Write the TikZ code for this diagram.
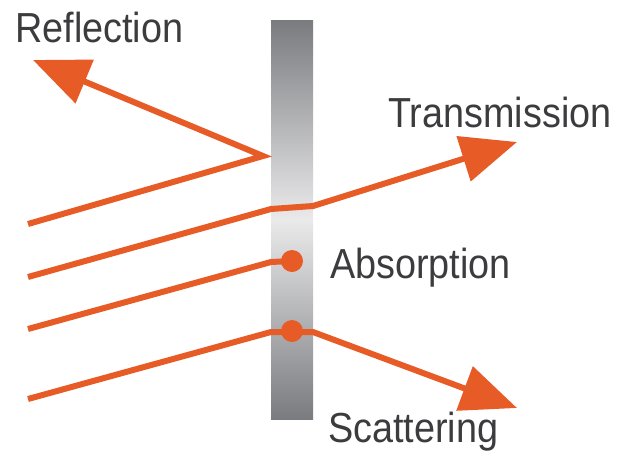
\documentclass[tikz,border=0pt]{standalone}
\usepackage{fontspec}
\newfontfamily\labelfont{Liberation Sans}[FakeStretch=0.9]
\usetikzlibrary{arrows.meta, positioning}
\definecolor{rayOrange}{RGB}{231,91,38}
\definecolor{labelGray}{RGB}{60,60,62}
\definecolor{barDark}{RGB}{122,123,127}
\definecolor{barLight}{RGB}{234,234,235}

\begin{document}
\begin{tikzpicture}[x=1pt, y=-1pt]

% --- Styles ---
\tikzset{
    rayLine/.style={draw=rayOrange, line width=6pt},
    rayArrow/.style={rayLine, -{Triangle[length=56pt, width=46pt]}},
    hitDot/.style={circle, fill=rayOrange, minimum size=22pt, inner sep=0pt},
    rayLabel/.style={anchor=base west, inner sep=0pt, text=labelGray, font=\labelfont\fontsize{42}{48}\selectfont},
}
\useasboundingbox (0,0) rectangle (630,459);

% --- The slab ---
\shade[top color=barDark, bottom color=barDark, middle color=barLight] (271,20) rectangle (313,419);

% --- Reflection ---
\coordinate (reflIn) at (28,224);
\coordinate (reflHit) at (263,156);
\coordinate (reflOut) at (33,60);
\draw[rayArrow] (reflIn) -- (reflHit) -- (reflOut);

% --- Transmission ---
\coordinate (transIn) at (28,277);
\coordinate (transEnter) at (271,209);
\coordinate (transExit) at (313,206);
\coordinate (transOut) at (517,142);
\draw[rayArrow] (transIn) -- (transEnter) -- (transExit) -- (transOut);

% --- Absorption ---
\node[hitDot] (absDot) at (292,261) {};
\coordinate (absIn) at (28,329);
\coordinate (absEnter) at (271,262);
\draw[rayLine] (absIn) -- (absEnter) -- (absDot.center);

% --- Scattering ---
\node[hitDot] (scatDot) at (292,331) {};
\coordinate (scatIn) at (28,399);
\coordinate (scatEnter) at (271,332);
\coordinate (scatExit) at (313,332);
\coordinate (scatOut) at (517,408);
\draw[rayArrow] (scatIn) -- (scatEnter) -- (scatExit) -- (scatOut);

% --- Labels ---
\node[rayLabel] (reflLabel) at (15,42) {Reflection};
\node[rayLabel] (transLabel) at (388,127) {Transmission};
\node[rayLabel] (absLabel) at (330,278) {Absorption};
\node[rayLabel] (scatLabel) at (328,442) {Scattering};

\end{tikzpicture}
\end{document}
